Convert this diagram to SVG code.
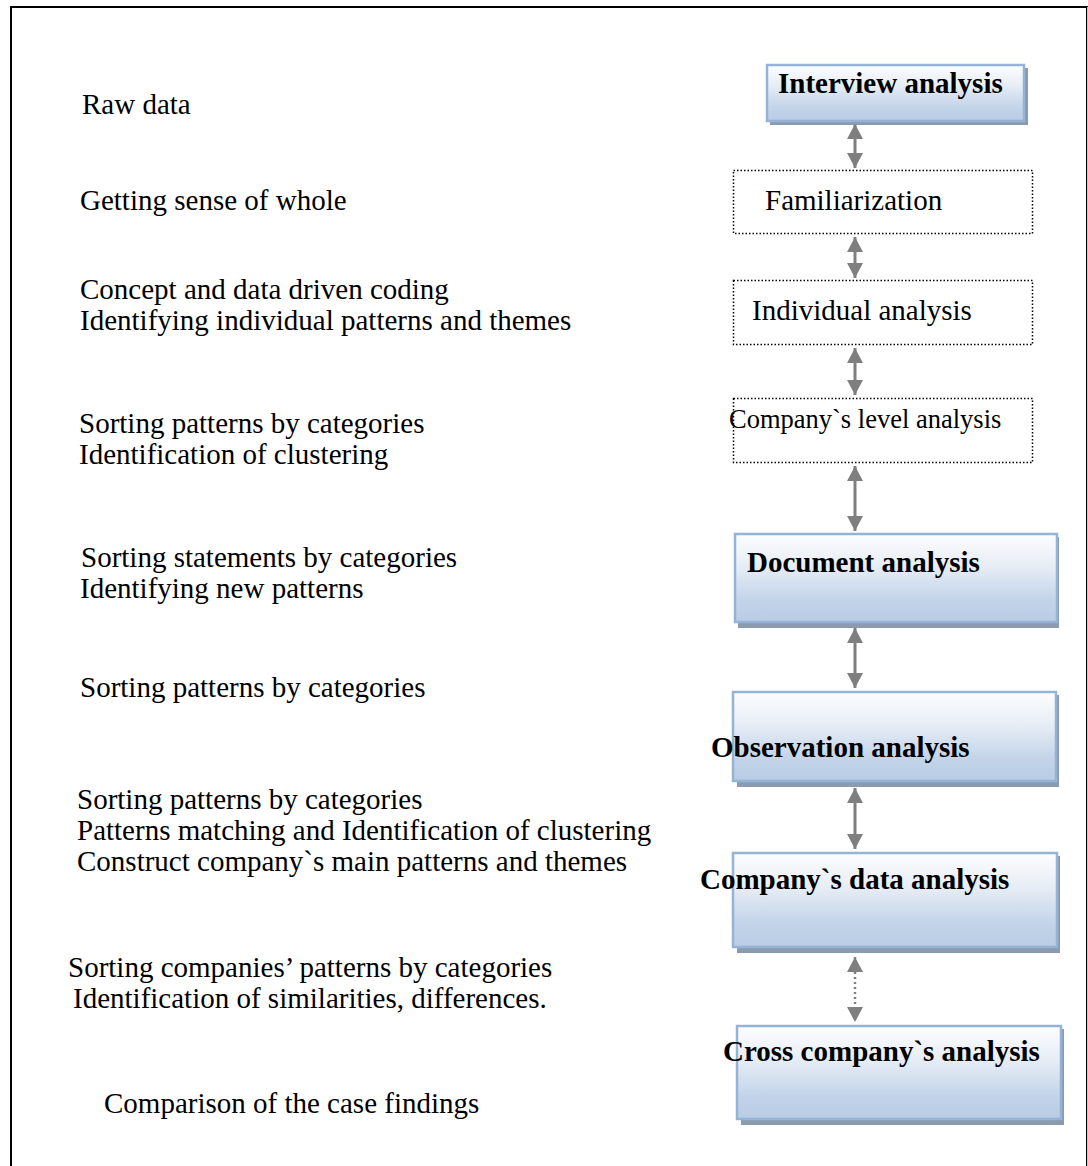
<svg xmlns="http://www.w3.org/2000/svg" width="1088" height="1166" viewBox="0 0 1088 1166">
  <defs>
    <linearGradient id="boxFill" x1="0" y1="0" x2="0" y2="1">
      <stop offset="0" stop-color="#fdfdfe"/>
      <stop offset="0.35" stop-color="#e8eef6"/>
      <stop offset="0.75" stop-color="#c3d4e9"/>
      <stop offset="1" stop-color="#b8cce4"/>
    </linearGradient>
    <!-- arrowhead pointing along the line direction; reversed at the start -->
    <marker id="head" viewBox="0 0 15 16" refX="15" refY="8" markerWidth="15" markerHeight="16" markerUnits="userSpaceOnUse" orient="auto-start-reverse">
      <path d="M0 0 L15 8 L0 16 Z" fill="#7f7f7f"/>
    </marker>
  </defs>
  <style>
    .note { font-family: "Liberation Serif", "Times New Roman", serif; font-size: 29px; fill: #000; }
    .small { font-family: "Liberation Serif", "Times New Roman", serif; font-size: 26.5px; fill: #000; }
    .step { font-family: "Liberation Serif", "Times New Roman", serif; font-size: 29px; fill: #000; }
    .title { font-family: "Liberation Serif", "Times New Roman", serif; font-size: 29px; font-weight: bold; fill: #000; }
    .shadow { fill: #8a9bb0; }
    .box { fill: url(#boxFill); stroke: #95b3d7; stroke-width: 2.5; }
    .dotbox { fill: #ffffff; stroke: #000; stroke-width: 1.5; stroke-dasharray: 1.5 2; }
    .link { stroke: #7f7f7f; stroke-width: 3; fill: none; }
    .link.dotted { stroke-width: 2.5; stroke-dasharray: 2 3; }
  </style>

  <!-- outer frame -->
  <rect x="11" y="7" width="1076" height="1175" fill="#ffffff" stroke="#000" stroke-width="2"/>
  <line x1="1087.5" y1="7" x2="1087.5" y2="1166" stroke="#c8c8c8" stroke-width="1"/>

  <!-- step descriptions, left column -->
  <g id="notes">
    <text class="note" x="82" y="114">Raw data</text>
    <text class="note" x="80" y="210">Getting sense of whole</text>
    <text class="note" x="80" y="299">Concept and data driven coding</text>
    <text class="note" x="80" y="330">Identifying individual patterns and themes</text>
    <text class="note" x="79" y="433">Sorting patterns by categories</text>
    <text class="note" x="79" y="464">Identification of clustering</text>
    <text class="note" x="81" y="567">Sorting statements by categories</text>
    <text class="note" x="80" y="598">Identifying new patterns</text>
    <text class="note" x="80" y="697">Sorting patterns by categories</text>
    <text class="note" x="77" y="809">Sorting patterns by categories</text>
    <text class="note" x="77" y="840">Patterns matching and Identification of clustering</text>
    <text class="note" x="77" y="871">Construct company`s main patterns and themes</text>
    <text class="note" x="68" y="977">Sorting companies’ patterns by categories</text>
    <text class="note" x="73" y="1008">Identification of similarities, differences.</text>
    <text class="note" x="104" y="1113">Comparison of the case findings</text>
  </g>

  <!-- connectors -->
  <g id="connectors">
    <line class="link" x1="855" y1="124" x2="855" y2="168" marker-start="url(#head)" marker-end="url(#head)"/>
    <line class="link" x1="855" y1="237" x2="855" y2="278" marker-start="url(#head)" marker-end="url(#head)"/>
    <line class="link" x1="855" y1="348" x2="855" y2="395" marker-start="url(#head)" marker-end="url(#head)"/>
    <line class="link" x1="855" y1="466" x2="855" y2="531" marker-start="url(#head)" marker-end="url(#head)"/>
    <line class="link" x1="855" y1="628" x2="855" y2="688" marker-start="url(#head)" marker-end="url(#head)"/>
    <line class="link" x1="855" y1="788" x2="855" y2="849" marker-start="url(#head)" marker-end="url(#head)"/>
    <line class="link dotted" x1="855" y1="957" x2="855" y2="1022" marker-start="url(#head)" marker-end="url(#head)"/>
  </g>

  <!-- shaded stage boxes and dotted sub-step boxes -->
  <g id="interview">
    <rect class="shadow" x="770" y="68" width="258" height="57"/>
    <rect class="box" x="767" y="65" width="257" height="56"/>
    <text class="title" x="778" y="93">Interview analysis</text>
  </g>
  <g id="familiarization">
    <rect class="dotbox" x="733.5" y="170.5" width="299" height="63"/>
    <text class="step" x="765" y="210">Familiarization</text>
  </g>
  <g id="individual">
    <rect class="dotbox" x="733.5" y="280.5" width="299" height="64"/>
    <text class="step" x="752" y="320">Individual analysis</text>
  </g>
  <g id="company-level">
    <rect class="dotbox" x="733.5" y="398.5" width="299" height="64"/>
    <text class="small" x="729" y="428">Company`s level analysis</text>
  </g>
  <g id="document">
    <rect class="shadow" x="738" y="537" width="321" height="91"/>
    <rect class="box" x="735" y="534" width="322" height="88"/>
    <text class="title" x="747" y="572">Document analysis</text>
  </g>
  <g id="observation">
    <rect class="shadow" x="737" y="695" width="322" height="92"/>
    <rect class="box" x="733" y="692" width="323" height="89"/>
    <text class="title" x="711" y="757">Observation analysis</text>
  </g>
  <g id="company-data">
    <rect class="shadow" x="737" y="856" width="323" height="97"/>
    <rect class="box" x="733" y="853" width="324" height="94"/>
    <text class="title" x="700" y="889">Company`s data analysis</text>
  </g>
  <g id="cross-company">
    <rect class="shadow" x="741" y="1029" width="323" height="96"/>
    <rect class="box" x="737" y="1026" width="324" height="93"/>
    <text class="title" x="723" y="1061">Cross company`s analysis</text>
  </g>
</svg>
